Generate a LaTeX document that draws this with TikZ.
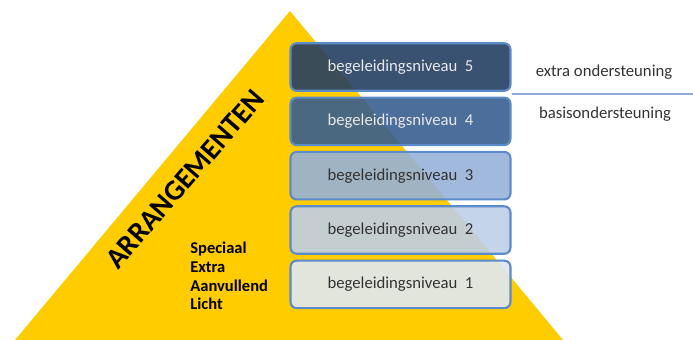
\documentclass[tikz,border=0pt]{standalone}
\usepackage{fontspec}
\setmainfont{Carlito}
\usetikzlibrary{calc, positioning}

\definecolor{pyrgold}{RGB}{255,204,0}
\definecolor{lvlborder}{RGB}{91,139,201}
\definecolor{lvlfive}{RGB}{37,63,98}
\definecolor{lvlfour}{RGB}{56,94,144}
\definecolor{lvlthree}{RGB}{150,177,216}
\definecolor{lvltwo}{RGB}{190,207,232}
\definecolor{lvlone}{RGB}{222,232,244}
\definecolor{splitline}{RGB}{142,170,219}
\definecolor{darktext}{RGB}{51,51,51}
\definecolor{lighttext}{RGB}{232,232,232}

\begin{document}
\begin{tikzpicture}[
  x=0.02cm, y=-0.02cm,
  level/.style={rectangle, rounded corners=3.5pt, draw=lvlborder, line width=1.2pt,
    minimum width=4.40cm, minimum height=0.95cm, fill opacity=0.9, text opacity=1,
    font=\fontsize{9.5}{11}\selectfont},
  darklevel/.style={level, text=lighttext},
  lightlevel/.style={level, text=darktext},
  sidelabel/.style={font=\fontsize{9.5}{11}\selectfont, text=darktext},
  divider/.style={draw=splitline, line width=1pt}
]
\useasboundingbox (0,0) rectangle (693,340);

% Pyramid
\fill[pyrgold] (15,340) -- (290,11) -- (563,340) -- cycle;

% Title along the left slope
\node[rotate=49, font=\fontsize{16.5}{18}\selectfont\bfseries] (title) at (185,179) {ARRANGEMENTEN};

% Kinds of arrangement
\node[anchor=north west, align=left, inner sep=0pt,
  font=\fontsize{9.4}{10.6}\selectfont\bfseries] (kinds) at (190,242)
  {Speciaal\\Extra\\Aanvullend\\Licht};

% Levels (stacked top to bottom)
\node[darklevel, fill=lvlfive] (lvl5) at (400.5,67) {begeleidingsniveau~ 5};
\node[darklevel, fill=lvlfour, below=0.095cm of lvl5] (lvl4) {begeleidingsniveau~ 4};
\node[lightlevel, fill=lvlthree, below=0.095cm of lvl4] (lvl3) {begeleidingsniveau~ 3};
\node[lightlevel, fill=lvltwo, below=0.095cm of lvl3] (lvl2) {begeleidingsniveau~ 2};
\node[lightlevel, fill=lvlone, below=0.095cm of lvl2] (lvl1) {begeleidingsniveau~ 1};

% Split between extra and basic support
\coordinate (split) at ($(lvl5.south east)!0.5!(lvl4.north east)$);
\coordinate (splitend) at (693,95);
\draw[divider] (split) -- (split -| splitend);

\node[sidelabel] (extra) at (604,72) {extra ondersteuning};
\node[sidelabel] (basis) at (605,114) {basisondersteuning};

\end{tikzpicture}
\end{document}
